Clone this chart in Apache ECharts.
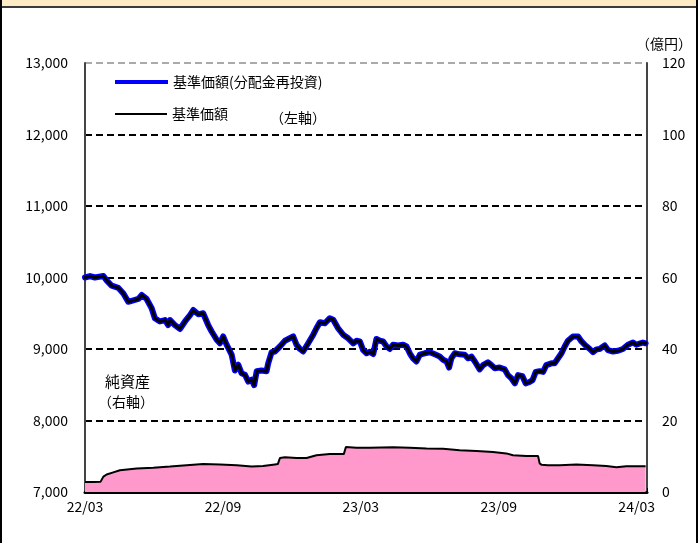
<!DOCTYPE html>
<html>
<head>
<meta charset="utf-8">
<title>基準価額・純資産の推移</title>
<script src="https://cdn.jsdelivr.net/npm/echarts@6/dist/echarts.min.js"></script>
<style>
html,body{margin:0;padding:0;background:#fff;}
#navChart{width:698px;height:543px;}
</style>
</head>
<body>
<div id="navChart"></div>
<script>
// 横軸は 22/03 からの経過月数
var xLabels = ['22/03','22/09','23/03','23/09','24/03'];

// 基準価額(円)
var navMonth = [0.00,0.22,0.43,0.80,0.94,1.16,1.45,1.67,1.88,2.10,2.32,2.47,2.68,2.90,3.04,3.26,3.48,3.62,3.70,3.91,
	4.13,4.35,4.57,4.71,4.93,5.14,5.36,5.51,5.73,5.87,6.01,6.16,6.38,6.52,6.67,6.74,6.81,6.96,7.10,7.25,
	7.36,7.47,7.68,7.90,7.97,8.12,8.26,8.48,8.70,8.91,9.06,9.20,9.35,9.49,9.71,9.93,10.07,10.22,10.43,10.65,
	10.80,11.01,11.23,11.45,11.67,11.81,11.96,12.10,12.25,12.39,12.54,12.68,12.83,12.97,13.12,13.26,13.40,13.62,13.84,13.99,
	14.13,14.27,14.42,14.57,14.78,15.00,15.22,15.43,15.58,15.73,15.84,15.94,16.09,16.30,16.52,16.67,16.81,16.96,17.17,17.32,
	17.53,17.68,17.83,18.04,18.26,18.40,18.55,18.70,18.84,19.03,19.17,19.32,19.47,19.61,19.78,19.93,20.07,20.29,20.43,20.58,
	20.73,20.87,21.01,21.23,21.45,21.60,21.74,21.96,22.10,22.25,22.39,22.61,22.75,22.97,23.19,23.40,23.62,23.84,23.99,24.16,
	24.27,24.39];
var navValue = [10000,10020,10000,10020,9960,9885,9855,9775,9660,9680,9700,9755,9700,9570,9430,9385,9405,9335,9405,9335,
	9280,9385,9475,9545,9485,9500,9335,9245,9130,9080,9175,9060,8920,8700,8780,8800,8660,8640,8545,8570,
	8495,8690,8700,8690,8800,8955,8965,9035,9115,9150,9175,9060,9000,8965,9080,9200,9290,9375,9360,9430,
	9410,9290,9200,9150,9080,9115,9105,8985,8940,8960,8930,9140,9115,9105,9035,9000,9060,9050,9060,9035,
	8940,8870,8825,8920,8940,8955,8925,8895,8850,8825,8740,8870,8940,8925,8920,8870,8895,8825,8715,8775,
	8815,8775,8730,8740,8715,8635,8590,8520,8635,8620,8520,8535,8565,8680,8690,8680,8775,8800,8800,8870,
	8940,9035,9115,9175,9175,9105,9060,9000,8955,8995,9000,9050,8985,8965,8975,9000,9060,9090,9060,9080,
	9090,9080];
// 分配実績がないため分配金再投資ベースも同じ値
var navReinvValue = navValue.slice();

// 純資産(億円)
var assetMonth = [0.00,0.36,0.68,0.80,0.94,1.23,1.52,2.25,2.97,3.70,4.42,5.14,5.87,6.60,7.25,7.75,8.26,8.39,8.48,8.70,
	9.20,9.64,10.07,10.65,11.26,11.35,11.81,12.39,13.40,14.13,14.86,15.58,16.30,17.03,17.75,18.33,18.62,19.20,19.71,19.78,
	19.87,20.14,20.65,21.38,22.10,22.68,23.12,23.55,24.39];
var assetValue = [2.8,2.8,2.9,4.3,4.9,5.5,6.1,6.6,6.8,7.1,7.5,7.8,7.7,7.5,7.1,7.3,7.7,7.8,9.5,9.7,
	9.5,9.5,10.3,10.6,10.6,12.6,12.4,12.4,12.5,12.4,12.2,12.1,11.7,11.5,11.2,10.8,10.3,10.1,10.1,8.0,
	7.6,7.5,7.5,7.7,7.5,7.3,6.9,7.2,7.2];

function pairs(xs, ys){
	var arr = [];
	for(var i=0;i<xs.length;i++){
		arr.push([xs[i], ys[i]]);
	}
	return arr;
}

var FONT = '"Noto Sans CJK JP", "Noto Sans", sans-serif';
var chart = echarts.init(document.getElementById('navChart'), null, {renderer:'canvas'});

var option = {
	animation: false,
	backgroundColor: '#fff',
	textStyle: {fontFamily: FONT, color: '#000'},
	grid: {left: 85, right: 51, top: 63, bottom: 51, containLabel: false},
	legend: [{
		data: ['基準価額(分配金再投資)'],
		left: 115, top: 75, padding: 0,
		icon: 'rect', itemWidth: 53, itemHeight: 4, itemGap: 0,
		selectedMode: false,
		textStyle: {fontFamily: FONT, fontSize: 14, color: '#000'}
	}, {
		data: ['基準価額'],
		left: 115, top: 107, padding: 0,
		icon: 'rect', itemWidth: 52, itemHeight: 2, itemGap: 0,
		selectedMode: false,
		textStyle: {fontFamily: FONT, fontSize: 14, color: '#000'}
	}],
	xAxis: {
		type: 'value',
		min: 0, max: 24.45, interval: 6,
		axisLine: {show: true, lineStyle: {color: '#000', width: 3}},
		axisTick: {show: true, inside: true, length: 4, lineStyle: {color: '#000', width: 1}},
		axisLabel: {
			fontSize: 14, color: '#000', margin: 8, fontFamily: FONT,
			formatter: function(v){
				if(Math.abs(v/6 - Math.round(v/6)) > 0.001) return '';
				return xLabels[Math.round(v/6)] || '';
			}
		},
		splitLine: {show: false}
	},
	yAxis: [{
		type: 'value',
		min: 7000, max: 13000, interval: 1000,
		axisLine: {show: true, lineStyle: {color: '#444', width: 2}},
		axisTick: {show: false},
		axisLabel: {
			fontSize: 14, color: '#000', margin: 17, fontFamily: FONT,
			formatter: function(v){ return v.toLocaleString('en-US'); }
		},
		splitLine: {
			show: true,
			lineStyle: {color: ['#000','#000','#000','#000','#000','#000','#aaa'], width: 2, type: [7,4]}
		}
	}, {
		type: 'value',
		min: 0, max: 120, interval: 20,
		position: 'right',
		axisLine: {show: true, lineStyle: {color: '#444', width: 2}},
		axisTick: {show: false},
		axisLabel: {fontSize: 14, color: '#000', margin: 15, fontFamily: FONT},
		splitLine: {show: false}
	}],
	series: [{
		name: '純資産',
		type: 'line',
		yAxisIndex: 1,
		data: pairs(assetMonth, assetValue),
		symbol: 'none',
		lineStyle: {color: '#000', width: 2},
		itemStyle: {color: '#000'},
		areaStyle: {color: '#FF99CC', opacity: 1},
		z: 1
	}, {
		name: '基準価額(分配金再投資)',
		type: 'line',
		data: pairs(navMonth, navReinvValue),
		symbol: 'none',
		lineStyle: {color: '#0000FF', width: 6, join: 'round', cap: 'round'},
		itemStyle: {color: '#0000FF'},
		z: 2
	}, {
		name: '基準価額',
		type: 'line',
		data: pairs(navMonth, navValue),
		symbol: 'none',
		lineStyle: {color: '#000', width: 3, join: 'round', cap: 'round'},
		itemStyle: {color: '#000'},
		z: 3
	}],
	graphic: [
		{type: 'rect', left: 0, top: 0, shape: {width: 698, height: 7}, style: {fill: '#FDEBC5'}, z: 10},
		{type: 'line', shape: {x1: 0, y1: 7, x2: 698, y2: 7}, style: {stroke: '#3a3a3a', lineWidth: 2}, z: 11},
		{type: 'line', shape: {x1: 1, y1: 0, x2: 1, y2: 543}, style: {stroke: '#000', lineWidth: 2}, z: 11},
		{type: 'line', shape: {x1: 697, y1: 0, x2: 697, y2: 543}, style: {stroke: '#000', lineWidth: 2}, z: 11},
		{type: 'text', left: 636, top: 37, style: {text: '（億円）', font: '14px ' + FONT, fill: '#000'}},
		{type: 'text', left: 270, top: 111, style: {text: '（左軸）', font: '14px ' + FONT, fill: '#000'}},
		{type: 'text', left: 105, top: 374, style: {text: '純資産', font: '15px ' + FONT, fill: '#000'}},
		{type: 'text', left: 98, top: 395, style: {text: '（右軸）', font: '14px ' + FONT, fill: '#000'}}
	]
};

chart.setOption(option);
</script>
</body>
</html>
